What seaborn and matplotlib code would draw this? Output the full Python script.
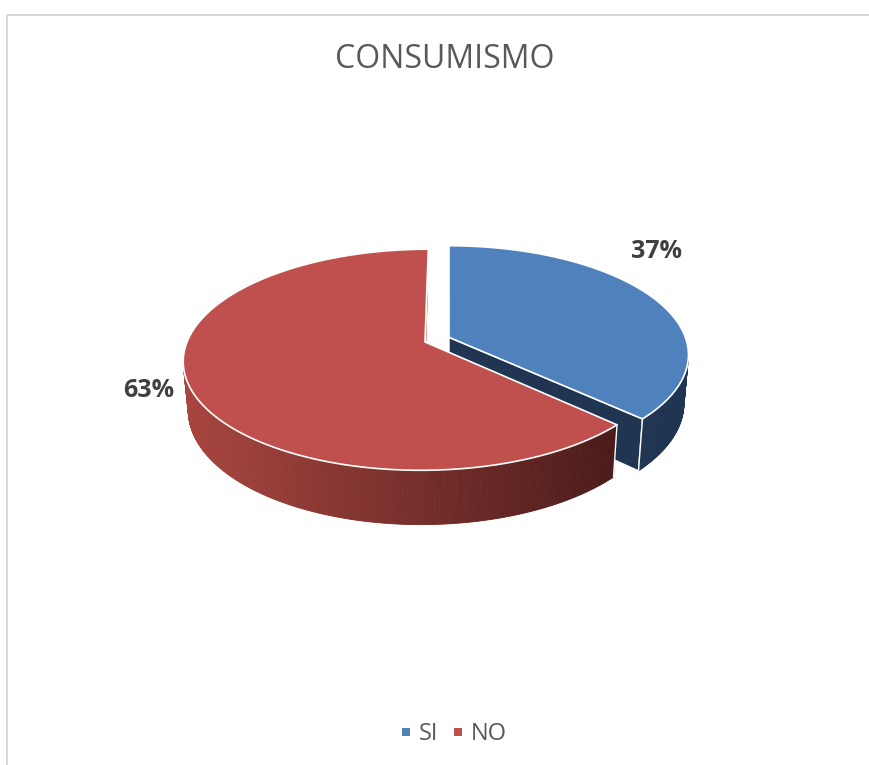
import numpy as np
import matplotlib
matplotlib.use("Agg")
import matplotlib.pyplot as plt
import matplotlib.colors as mcolors
from matplotlib.patches import Polygon
from matplotlib.lines import Line2D
import seaborn as sns

# ---- data ----
categories = ["SI", "NO"]
percentages = [37, 63]
chart_title = "CONSUMISMO"

# ---- style ----
sns.set_theme(style="white")
plt.rcParams["font.family"] = ["Open Sans", "DejaVu Sans"]

top_colors = sns.color_palette(["#4F81BD", "#C0504D"])
wall_colors = [("#1F3552", "#1F3552"), ("#A9453F", "#4A1B1A")]
explode = [0.11, 0.0]
label_anchor = [(657, 258), (149, 397)]  # baseline centre of each percent label

W, H = 870, 765
fig = plt.figure(figsize=(W / 100, H / 100), dpi=100)
ax = fig.add_axes([0, 0, 1, 1])
ax.set_xlim(0, W)
ax.set_ylim(H, 0)
ax.axis("off")

# ---- simple perspective camera for the 3-D pie ----
ELEV = np.radians(26.9)
DIST = 5.55
CAM_X = 0.1
RADIUS_PX = 238.0
CENTER = (448.8, 342.0)
THICK = 0.231
SIN_E, COS_E = np.sin(ELEV), np.cos(ELEV)
CAM = np.array([CAM_X, -DIST * COS_E, DIST * SIN_E])


def project(x, y, z):
    x = np.asarray(x, float)
    y = np.asarray(y, float)
    z = np.asarray(z, float)
    dx = x - CAM[0]
    dy = y - CAM[1]
    dz = z - CAM[2]
    yc = dy * SIN_E + dz * COS_E
    zc = dy * COS_E - dz * SIN_E
    f = RADIUS_PX * DIST
    return CENTER[0] + f * dx / zc, CENTER[1] - f * yc / zc


def faces_camera(point, normal):
    return np.dot(normal, CAM - np.asarray(point)) > 1e-9


def poly(xs, ys, **kw):
    ax.add_patch(Polygon(np.column_stack([xs, ys]), closed=True, **kw))


# slice angles, clockwise from 12 o'clock
fractions = np.array(percentages, float) / sum(percentages)
edges = np.concatenate([[0], np.cumsum(fractions)]) * 2 * np.pi

slices = []
for i in range(len(categories)):
    a, b = edges[i], edges[i + 1]
    mid = (a + b) / 2
    ox, oy = explode[i] * np.sin(mid), explode[i] * np.cos(mid)
    slices.append((i, a, b, ox, oy))

# paint the far slices first
slices.sort(key=lambda s: -(s[4] + np.cos((s[1] + s[2]) / 2)))

for i, a, b, ox, oy in slices:
    # radial cut faces
    for t, sign in ((a, -1), (b, 1)):
        normal = sign * np.array([np.cos(t), -np.sin(t), 0.0])
        pt = (ox + 0.5 * np.sin(t), oy + 0.5 * np.cos(t), -THICK / 2)
        if faces_camera(pt, normal):
            X = [ox, ox + np.sin(t), ox + np.sin(t), ox]
            Y = [oy, oy + np.cos(t), oy + np.cos(t), oy]
            Z = [0, 0, -THICK, -THICK]
            px, py = project(X, Y, Z)
            poly(px, py, facecolor=wall_colors[i][0], edgecolor="white",
                 lw=1.0, joinstyle="round")

    # outer curved wall, shaded left to right
    ts = np.linspace(a, b, max(int(np.degrees(b - a) * 2), 2) + 1)
    vis = []
    for t0, t1 in zip(ts[:-1], ts[1:]):
        tm = (t0 + t1) / 2
        pt = (ox + np.sin(tm), oy + np.cos(tm), -THICK / 2)
        if faces_camera(pt, np.array([np.sin(tm), np.cos(tm), 0.0])):
            vis.append((t0, t1))
    if vis:
        starts = np.array([v[0] for v in vis])
        xs_all = project(ox + np.sin(starts), oy + np.cos(starts), np.zeros(len(vis)))[0]
        xmin, xmax = xs_all.min(), xs_all.max()
        c0 = np.array(mcolors.to_rgb(wall_colors[i][0]))
        c1 = np.array(mcolors.to_rgb(wall_colors[i][1]))
        for t0, t1 in vis:
            X = ox + np.sin([t0, t1, t1, t0])
            Y = oy + np.cos([t0, t1, t1, t0])
            Z = [0, 0, -THICK, -THICK]
            px, py = project(X, Y, Z)
            frac = np.clip((px.mean() - xmin) / max(xmax - xmin, 1), 0, 1)
            col = c0 + (c1 - c0) * frac
            poly(px, py, facecolor=col, edgecolor=col, lw=0.6)
        # vertical edges where the wall ends
        for t in (vis[0][0], vis[-1][1]):
            if np.isclose(t, a) or np.isclose(t, b):
                px, py = project([ox + np.sin(t)] * 2, [oy + np.cos(t)] * 2, [0, -THICK])
                ax.plot(px, py, color="white", lw=1.0, solid_capstyle="round")

    # top face
    tt = np.linspace(a, b, 300)
    px, py = project(np.concatenate([[ox], ox + np.sin(tt)]),
                     np.concatenate([[oy], oy + np.cos(tt)]),
                     np.zeros(len(tt) + 1))
    poly(px, py, facecolor=top_colors[i], edgecolor="white", lw=1.2, joinstyle="round")

# ---- texts ----
ax.text(445, 68, chart_title, ha="center", va="baseline", fontsize=23, color="#595959")
for (lx, ly), pct in zip(label_anchor, percentages):
    ax.text(lx, ly, f"{pct}%", ha="center", va="baseline", fontsize=18,
            fontweight="bold", color="#404040")

handles = [Line2D([], [], ls="none", marker="s", markersize=5.8,
                  markerfacecolor=top_colors[k], markeredgewidth=0) for k in range(len(categories))]
ax.legend(handles, categories, loc="center", bbox_to_anchor=(454 / W, 1 - 734 / H),
          bbox_transform=fig.transFigure, ncol=2, frameon=False, fontsize=17,
          labelcolor="#595959", handlelength=0.4, handletextpad=0.35,
          columnspacing=0.65, borderpad=0)

# chart frame
ax.plot([7, W], [15, 15], color="#D6D6D6", lw=1.3, solid_capstyle="butt")
ax.plot([7, 7], [15, H], color="#D6D6D6", lw=1.3, solid_capstyle="butt")

fig.savefig("out.png", dpi=100)
